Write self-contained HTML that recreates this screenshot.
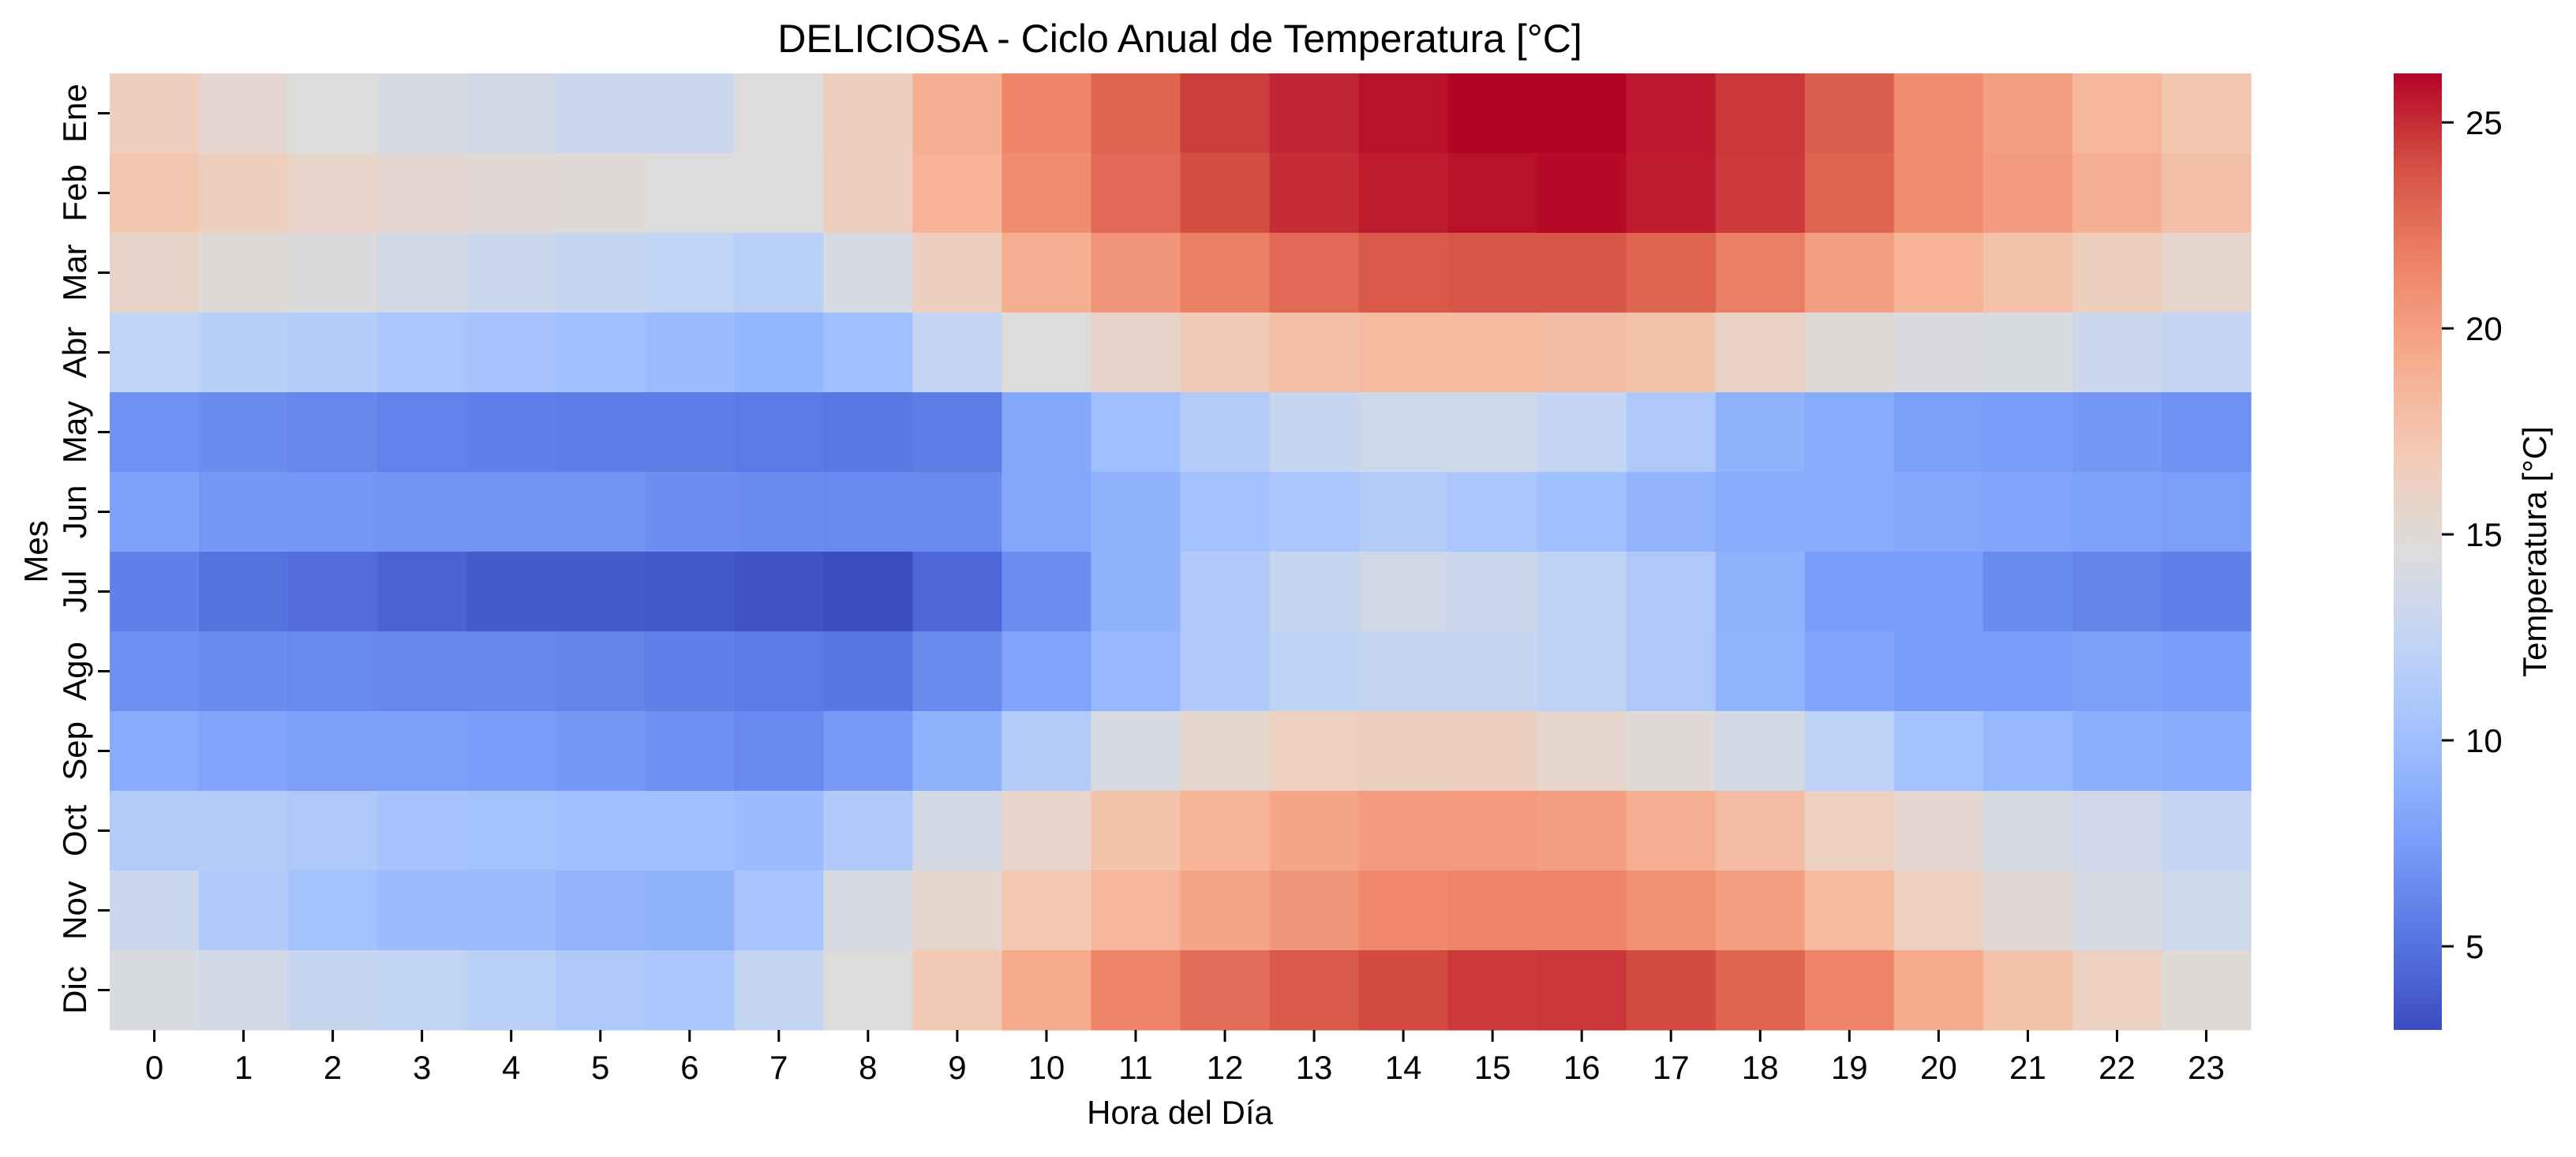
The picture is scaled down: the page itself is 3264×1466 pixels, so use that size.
<!DOCTYPE html>
<html><head><meta charset="utf-8"><style>
html,body{margin:0;padding:0;background:#fff;}
svg{display:block;font-family:"Liberation Sans","DejaVu Sans",sans-serif;}
</style></head><body>
<svg id="chart" width="3264" height="1466" viewBox="0 0 3264 1466" xmlns="http://www.w3.org/2000/svg">
<text x="1495" y="66" font-size="50" text-anchor="middle">DELICIOSA - Ciclo Anual de Temperatura [°C]</text>
<g id="cells"></g>
<g id="xticks"></g>
<g id="yticks"></g>
<text x="1495" y="1424" font-size="42" text-anchor="middle">Hora del Día</text>
<text x="0" y="0" font-size="42" text-anchor="middle" transform="translate(60,699) rotate(-90)">Mes</text>
<defs><linearGradient id="cbgrad" x1="0" y1="1" x2="0" y2="0"></linearGradient></defs>
<rect x="3033" y="93" width="61" height="1212" fill="url(#cbgrad)"/>
<g id="cbticks"></g>
<text x="0" y="0" font-size="42" text-anchor="middle" transform="translate(3226,699) rotate(-90)">Temperatura [°C]</text>
</svg>
<script>
const months = ["Ene","Feb","Mar","Abr","May","Jun","Jul","Ago","Sep","Oct","Nov","Dic"];
const hours = [0,1,2,3,4,5,6,7,8,9,10,11,12,13,14,15,16,17,18,19,20,21,22,23];
const tEne = [16.5,15.3,14.5,14,13.8,13.2,13.2,14.5,16.5,19,21.5,23,24.5,25.2,25.8,26.2,26.2,25.6,24.7,23.3,21,20,18.5,17.3];
const tFeb = [17.3,16.5,15.7,15.3,15,14.8,14.6,14.6,16.3,18.7,21,22.8,24,25,25.5,25.8,26,25.5,24.6,23,21,20.2,19,17.8];
const tMar = [15.8,14.8,14.4,13.7,13.2,12.8,12.3,11.8,14,16.5,19,20.5,21.8,22.8,23.5,23.7,23.7,23,21.8,20,18.7,17.6,16.5,15.6];
const tAbr = [12.3,11.7,11.4,10.8,10.4,10,9.7,9.3,10,12.5,14.6,15.8,17,17.8,18.2,18.2,18,17.5,16,14.8,14.3,14.2,13.2,12.5];
const tMay = [6.8,6.5,6.2,5.9,5.7,5.6,5.6,5.4,5.3,5.6,8.3,10,11.3,12.7,13.3,13.3,12.5,11,9,8.5,7.7,7.5,7.2,6.8];
const tJun = [7.8,7.2,7.1,7,7,7,6.6,6.5,6.3,6.4,8.2,9,10.2,10.8,11.3,10.8,10,9.2,8.6,8.5,8.2,8,7.8,7.6];
const tJul = [5.8,5,4.7,4.2,3.8,3.8,3.6,3.4,3.0,4.4,6.6,9,11.2,12.8,13.5,13.2,12.2,11,9,7.5,7.5,6.5,6,5.7];
const tAgo = [6.7,6.5,6.3,6.2,6.2,6,5.8,5.5,5.2,6.4,8,9.5,11,12.2,12.6,12.6,12.2,11,9.1,8,7.5,7.5,7.7,7.5];
const tSep = [8.5,8,7.7,7.6,7.5,7.2,6.7,6.3,7.3,9,11.3,14,15.5,16.2,16.4,16.3,15.6,14.8,13.8,12,10.3,9.5,8.9,8.6];
const tOct = [11.3,11.3,11,10.5,10.3,10,10,9.8,11.2,13.8,15.7,17.5,18.6,19.6,20.2,20.3,20,19,18,16.2,15.3,14,13.4,12.5];
const tNov = [13.2,11.2,10.3,9.8,9.6,9.2,9,10.6,14,15.5,17.2,18.5,19.6,20.5,21.3,21.6,21.5,20.8,20,18.2,16.2,15,14,13.3];
const tDic = [14.2,13.6,12.8,12.4,11.8,11,10.8,12.6,14.6,17,19.3,21.5,22.6,23.5,24.1,24.6,24.7,24.1,23,21.5,19.3,17.6,16.2,14.9];
const cbTicks = [5,10,15,20,25];
const vmin = 2.97, vmax = 26.19;

const rows = [tEne,tFeb,tMar,tAbr,tMay,tJun,tJul,tAgo,tSep,tOct,tNov,tDic];
const NS = "http://www.w3.org/2000/svg";
const X0 = 139, X1 = 2852, Y0 = 93, Y1 = 1305;
const cw = (X1 - X0) / hours.length, ch = (Y1 - Y0) / months.length;
const xPos = i => X0 + i * cw;
const yPos = j => Y0 + j * ch;
const cbY = v => Y1 - (v - vmin) / (vmax - vmin) * (Y1 - Y0);

const stops = ["#3b4cc0","#5a78e4","#7b9ff9","#9ebeff","#c0d4f5","#dddcdc","#f2cbb7","#f7ac8e","#ee8468","#d65244","#b40426"];
const hex = h => [1,3,5].map(k => parseInt(h.substr(k,2),16));
function cmap(v){
  let t = Math.max(0, Math.min(1, (v - vmin) / (vmax - vmin)));
  const s = t * (stops.length - 1), i = Math.min(stops.length - 2, Math.floor(s)), f = s - i;
  const a = hex(stops[i]), b = hex(stops[i+1]);
  return "rgb(" + a.map((c,k) => Math.round(c + (b[k]-c)*f)).join(",") + ")";
}
function mk(tag, attrs, parent){
  const e = document.createElementNS(NS, tag);
  for (const k in attrs) e.setAttribute(k, attrs[k]);
  parent.appendChild(e); return e;
}
const cells = document.getElementById("cells");
rows.forEach((row, j) => row.forEach((v, i) => {
  const r = mk("rect", {x: xPos(i), y: yPos(j), width: cw + 0.6, height: ch + 0.6, fill: cmap(v)}, cells);
  
  
}));
const xt = document.getElementById("xticks");
hours.forEach((h, i) => {
  const cx = xPos(i) + cw / 2;
  mk("line", {x1: cx, x2: cx, y1: Y1, y2: Y1 + 15, stroke: "#000", "stroke-width": 3}, xt);
  const t = mk("text", {x: cx, y: 1367, "font-size": 42, "text-anchor": "middle"}, xt);
  
  
  t.textContent = h;
});
const yt = document.getElementById("yticks");
months.forEach((m, j) => {
  const cy = yPos(j) + ch / 2;
  mk("line", {x1: X0 - 15, x2: X0, y1: cy, y2: cy, stroke: "#000", "stroke-width": 3}, yt);
  const t = mk("text", {x: 0, y: 0, "font-size": 42, "text-anchor": "middle", transform: "translate(109," + cy + ") rotate(-90)"}, yt);
  
  
  t.textContent = m;
});
const grad = document.getElementById("cbgrad");
stops.forEach((c, k) => mk("stop", {offset: (k / (stops.length - 1)), "stop-color": c}, grad));
const cbt = document.getElementById("cbticks");
cbTicks.forEach(v => {
  const y = cbY(v);
  mk("line", {x1: 3094, x2: 3109, y1: y, y2: y, stroke: "#000", "stroke-width": 3}, cbt);
  const t = mk("text", {x: 3124, y: y + 15, "font-size": 42}, cbt);
  
  
  t.textContent = v;
});
</script>
</body></html>
